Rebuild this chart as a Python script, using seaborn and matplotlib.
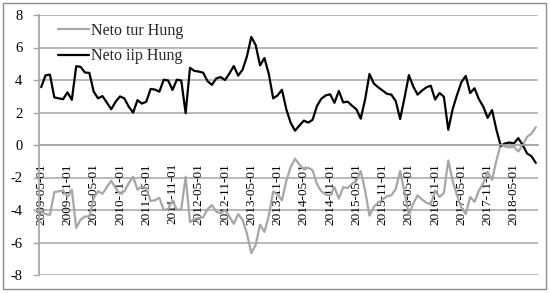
import matplotlib
matplotlib.use("Agg")
import matplotlib.pyplot as plt
from matplotlib.patches import Rectangle
import numpy as np
import pandas as pd
import seaborn as sns

# monthly categories, 2009-05 .. 2018-10
months = pd.date_range("2009-05-01", periods=114, freq="MS")

neto_iip = [
    3.56, 4.29, 4.33, 2.93, 2.87, 2.82, 3.24, 2.78, 4.85, 4.81,
    4.46, 4.44, 3.28, 2.87, 3.01, 2.61, 2.20, 2.66, 2.99, 2.87,
    2.36, 1.99, 2.76, 2.55, 2.66, 3.45, 3.41, 3.28, 4.02, 3.97,
    3.39, 4.02, 3.97, 1.96, 4.75, 4.56, 4.52, 4.45, 3.93, 3.70,
    4.10, 4.18, 4.00, 4.40, 4.86, 4.27, 4.63, 5.45, 6.65, 6.15,
    4.90, 5.35, 4.37, 2.87, 3.05, 3.40, 2.20, 1.36, 0.88, 1.20,
    1.50, 1.38, 1.55, 2.40, 2.85, 3.05, 3.12, 2.60, 3.33, 2.62,
    2.67, 2.42, 2.20, 1.62, 2.80, 4.37, 3.78, 3.55, 3.35, 3.15,
    3.10, 2.70, 1.60, 2.90, 4.30, 3.60, 3.10, 3.35, 3.55, 3.65,
    2.80, 3.20, 2.97, 0.94, 2.20, 3.08, 3.87, 4.25, 3.20, 3.49,
    2.82, 2.36, 1.67, 2.15, 0.94, -0.06, 0.10, 0.15, 0.10, 0.42,
    0.00, -0.52, -0.69, -1.10,
]

neto_tur = [
    -4.10, -4.25, -4.30, -2.90, -2.85, -2.80, -3.20, -2.75, -5.10, -4.60,
    -4.40, -4.40, -3.25, -2.85, -3.00, -2.60, -2.20, -2.65, -3.00, -2.85,
    -2.35, -1.95, -2.75, -2.55, -2.65, -3.45, -3.40, -3.25, -4.00, -3.95,
    -3.40, -4.00, -3.95, -1.95, -4.75, -4.55, -4.50, -4.45, -3.95, -3.70,
    -4.10, -4.20, -4.00, -4.40, -4.85, -4.25, -4.60, -5.45, -6.65, -6.15,
    -4.90, -5.35, -4.35, -2.85, -3.05, -3.40, -2.20, -1.35, -0.85, -1.20,
    -1.50, -1.40, -1.55, -2.40, -2.85, -3.05, -3.10, -2.60, -3.30, -2.60,
    -2.65, -2.40, -2.20, -1.60, -2.80, -4.35, -3.80, -3.55, -3.35, -3.15,
    -3.10, -2.70, -1.60, -2.90, -4.30, -3.60, -3.10, -3.35, -3.55, -3.65,
    -2.80, -3.20, -2.95, -0.95, -2.20, -3.10, -3.85, -4.25, -3.20, -3.50,
    -2.80, -2.35, -1.65, -2.15, -0.95, 0.05, -0.10, -0.15, -0.10, -0.40,
    0.00, 0.50, 0.70, 1.10,
]

series_names = ["Neto tur Hung", "Neto iip Hung"]
series_colors = ["#a6a6a6", "#000000"]
y_ticks = [-8, -6, -4, -2, 0, 2, 4, 6, 8]

df = pd.concat([
    pd.DataFrame({"idx": np.arange(len(months)), "value": neto_tur, "series": series_names[0]}),
    pd.DataFrame({"idx": np.arange(len(months)), "value": neto_iip, "series": series_names[1]}),
])

sns.set_theme(style="white")
plt.rcParams["font.family"] = ["Liberation Serif", "DejaVu Serif"]
plt.rcParams["axes.unicode_minus"] = False

fig = plt.figure(figsize=(5.5, 2.93), dpi=100)
ax = fig.add_axes([39 / 550, 1 - 275 / 293, 499 / 550, 260 / 293])

sns.lineplot(data=df, x="idx", y="value", hue="series", hue_order=series_names,
             palette=dict(zip(series_names, series_colors)), linewidth=1.6, ax=ax)

ax.set_xlim(-0.5, len(months) - 0.5)
ax.set_ylim(-8, 8)
ax.set_yticks(y_ticks, [str(v) for v in y_ticks])
for v in y_ticks:
    ax.axhline(v, color="#a6a6a6", lw=1.1, zorder=0)

# labels centred on every 6th category, tick marks on the category borders
label_pos = np.arange(0, len(months), 6)
ax.set_xticks(label_pos)
ax.set_xticklabels([months[i].strftime("%Y-%m-%d") for i in label_pos])
ax.set_xticks(np.arange(-0.5, len(months), 6), minor=True)
ax.tick_params(axis="x", which="major", length=0, pad=13, labelsize=9.5,
               labelcolor="black", labelrotation=90)
ax.tick_params(axis="x", which="minor", length=4, width=1, color="#a6a6a6", direction="out")
ax.tick_params(axis="y", length=4, width=1, color="#a6a6a6", direction="out", pad=8,
               labelsize=10.5, labelcolor="black", left=True)
for lab in ax.get_xticklabels():
    lab.set_verticalalignment("top")
    lab.set_horizontalalignment("center")

ax.spines["bottom"].set_position(("data", 0))
ax.spines["bottom"].set_color("#a6a6a6")
ax.spines["left"].set_color("#a6a6a6")
ax.spines["top"].set_visible(False)
ax.spines["right"].set_visible(False)
ax.set_xlabel("")
ax.set_ylabel("")

ax.legend(loc="upper left", bbox_to_anchor=(0.01, 1.025), frameon=False, fontsize=11.5,
          handlelength=1.9, handletextpad=0.15, labelspacing=0.6)

fig.add_artist(Rectangle((3 / 550, 4 / 293), 543 / 550, 286 / 293, transform=fig.transFigure,
                         fill=False, edgecolor="#8c8c8c", lw=1))

fig.savefig("out.png", dpi=100)
